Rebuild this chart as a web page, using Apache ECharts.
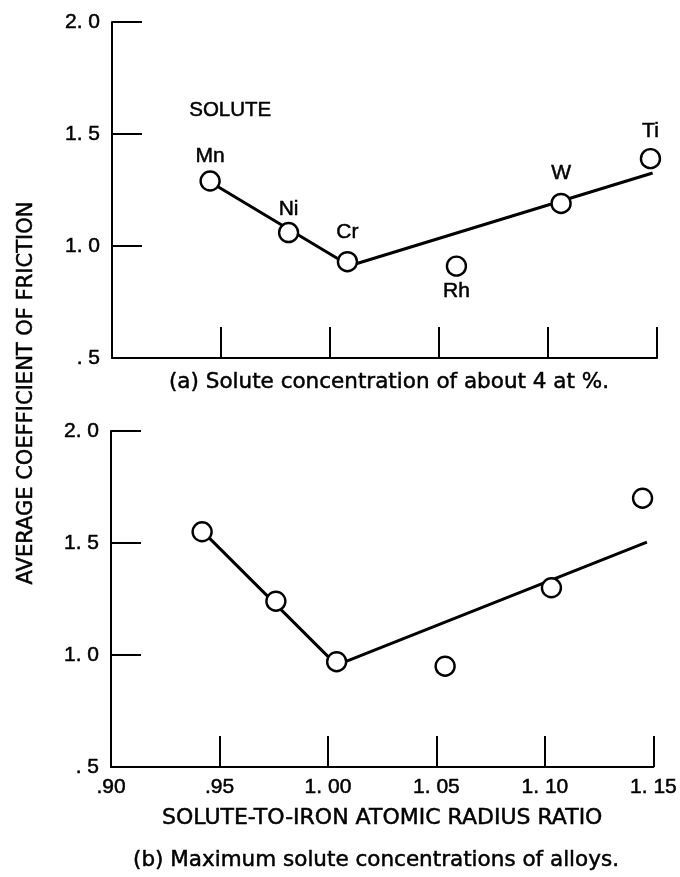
<!DOCTYPE html>
<html>
<head>
<meta charset="utf-8">
<script src="https://cdn.jsdelivr.net/npm/echarts@6/dist/echarts.min.js"></script>
<style>
html,body{margin:0;padding:0;background:#fff;}
#chart{width:680px;height:877px;}
</style>
</head>
<body>
<div id="chart"></div>
<script>
// ---- data ----
const solutes = ['Mn', 'Ni', 'Cr', 'Rh', 'W', 'Ti'];
const radiusRatioA = [0.945, 0.981, 1.008, 1.058, 1.106, 1.147];
const frictionA = [1.29, 1.06, 0.93, 0.91, 1.19, 1.39];
const radiusRatioB = [0.942, 0.976, 1.004, 1.054, 1.103, 1.145];
const frictionB = [1.55, 1.24, 0.97, 0.95, 1.30, 1.70];
const fitAx = [0.945, 1.009, 1.148];
const fitAy = [1.286, 0.912, 1.326];
const fitBx = [0.942, 1.004, 1.147];
const fitBy = [1.554, 0.955, 1.504];
const yTickValues = [0.5, 1.0, 1.5, 2.0];
const yTickLabels = ['. 5', '1. 0', '1. 5', '2. 0'];
const xTickLabels = ['.90', '.95', '1. 00', '1. 05', '1. 10', '1. 15'];
const labelSide = ['top', 'top', 'top', 'bottom', 'top', 'top'];
const labelGap = [4, 2, 8, 4, 9, 6];

// ---- chart ----
const FONT = '"Liberation Sans", Arial, sans-serif';
const WIDE = '"DejaVu Sans", "Liberation Sans", sans-serif';
const ink = '#000';
const BOLDEN = 0.5;
const chart = echarts.init(document.getElementById('chart'), null, {renderer: 'canvas'});

function zip(xs, ys) { return xs.map((x, i) => [x, ys[i]]); }

const tickText = {color: ink, fontFamily: FONT, fontSize: 21, textBorderColor: ink, textBorderWidth: BOLDEN};

function yAxis(gridIndex) {
  return {
    gridIndex, type: 'value', min: 0.5, max: 2.0, interval: 0.5,
    axisLine: {show: true, lineStyle: {color: ink, width: 2}},
    axisTick: {show: true, inside: true, length: 30, lineStyle: {color: ink, width: 2}},
    splitLine: {show: false},
    axisLabel: Object.assign({}, tickText, {
      margin: 12,
      formatter: v => { const i = yTickValues.findIndex(t => Math.abs(t - v) < 1e-6); return i >= 0 ? yTickLabels[i] : ''; }
    })
  };
}
function xAxis(gridIndex, withLabels) {
  const ax = {
    gridIndex, type: 'value', min: 0.90, max: 1.15, interval: 0.05,
    axisLine: {show: true, onZero: false, lineStyle: {color: ink, width: 2}},
    axisTick: {show: true, inside: true, length: 31, lineStyle: {color: ink, width: 2}},
    splitLine: {show: false},
    axisLabel: Object.assign({}, tickText, {
      show: withLabels, margin: 10,
      formatter: v => xTickLabels[Math.round((v - 0.90) / 0.05)] || ''
    })
  };
  if (withLabels) {
    ax.name = 'SOLUTE-TO-IRON ATOMIC RADIUS RATIO';
    ax.nameLocation = 'middle';
    ax.nameGap = 40;
    ax.nameTextStyle = {color: ink, fontFamily: WIDE, fontSize: 22, textBorderColor: ink, textBorderWidth: BOLDEN};
  }
  return ax;
}

const markerStyle = {color: '#fff', borderColor: ink, borderWidth: 2.4, opacity: 1};
function txt(extra) { return Object.assign({fill: ink, stroke: ink, lineWidth: BOLDEN}, extra); }

const option = {
  backgroundColor: '#fff',
  animation: false,
  grid: [
    {left: 112, right: 23, top: 22, height: 336},
    {left: 111, right: 23, top: 431, height: 336}
  ],
  xAxis: [xAxis(0, false), xAxis(1, true)],
  yAxis: [yAxis(0), yAxis(1)],
  graphic: [
    {type: 'text', left: 189, top: 100, style: txt({text: 'SOLUTE', font: '20.5px ' + FONT})},
    {type: 'text', x: 389, y: 382, style: txt({text: '(a) Solute concentration of about 4 at %.', font: '21.5px ' + WIDE, align: 'center', verticalAlign: 'middle'})},
    {type: 'text', x: 376, y: 860, style: txt({text: '(b) Maximum solute concentrations of alloys.', font: '21.5px ' + WIDE, align: 'center', verticalAlign: 'middle'})},
    {type: 'text', x: 27, y: 393, rotation: Math.PI / 2, style: txt({text: 'AVERAGE COEFFICIENT OF FRICTION', font: '21px ' + WIDE, align: 'center', verticalAlign: 'middle'})}
  ],
  series: [
    {
      type: 'line', xAxisIndex: 0, yAxisIndex: 0, data: zip(fitAx, fitAy),
      symbol: 'none', lineStyle: {color: ink, width: 3}, z: 2
    },
    {
      type: 'scatter', xAxisIndex: 0, yAxisIndex: 0,
      data: zip(radiusRatioA, frictionA).map((p, i) => ({
        value: p, name: solutes[i],
        label: {position: labelSide[i], distance: labelGap[i]}
      })),
      symbol: 'circle', symbolSize: 19, itemStyle: markerStyle, z: 3,
      label: {show: true, formatter: '{b}', color: ink, opacity: 1, fontFamily: FONT, fontSize: 21, textBorderColor: ink, textBorderWidth: BOLDEN}
    },
    {
      type: 'line', xAxisIndex: 1, yAxisIndex: 1, data: zip(fitBx, fitBy),
      symbol: 'none', lineStyle: {color: ink, width: 3}, z: 2
    },
    {
      type: 'scatter', xAxisIndex: 1, yAxisIndex: 1,
      data: zip(radiusRatioB, frictionB),
      symbol: 'circle', symbolSize: 19, itemStyle: markerStyle, z: 3
    }
  ]
};
chart.setOption(option);
</script>
</body>
</html>
